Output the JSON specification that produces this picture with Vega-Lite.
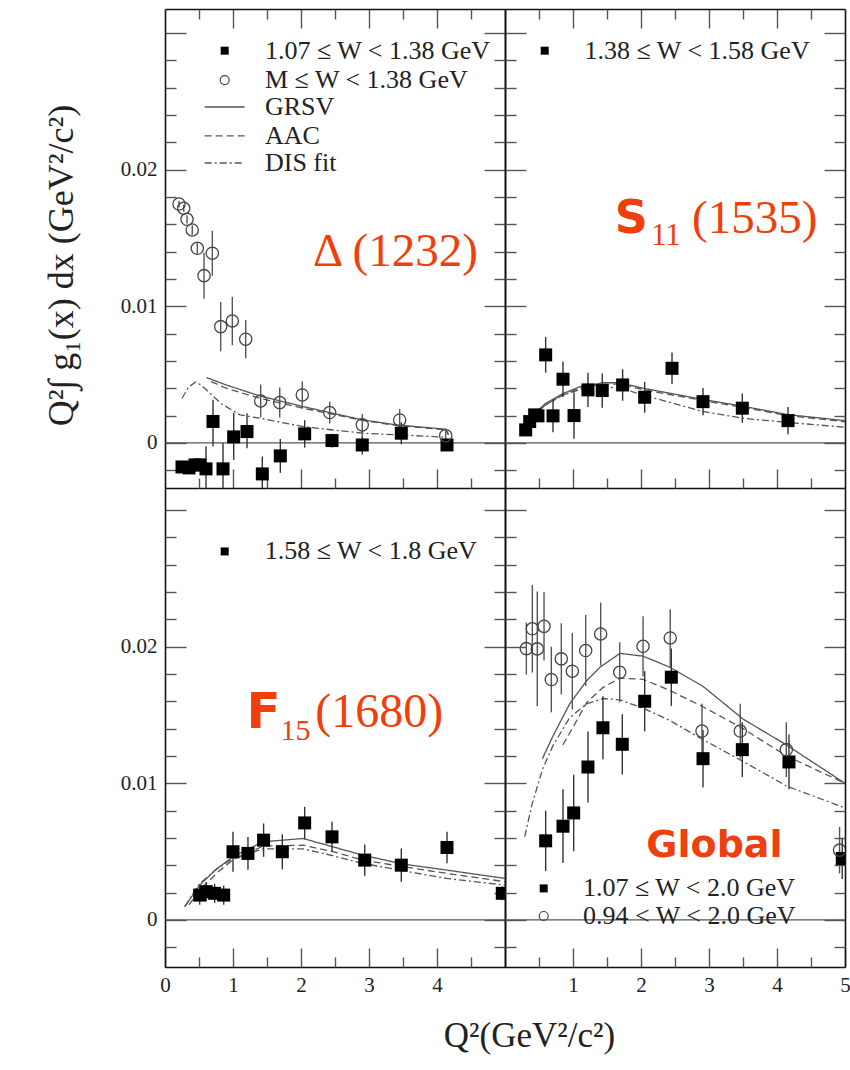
{
"$schema": "https://vega.github.io/schema/vega-lite/v6.json",
"background": "white",
"padding": {"left": 43, "top": 8, "right": 5, "bottom": 5},
"config": {
 "view": {"stroke": null},
 "axis": {"grid": false, "domainColor": "#111", "domainWidth": 1.6, "tickColor": "#555", "tickWidth": 1.4, "labelFont": "Liberation Serif", "labelFontSize": 21, "labelColor": "#222", "titleFont": "Liberation Serif", "titleFontWeight": "normal", "titleColor": "#222", "labelOverlap": false, "labelFlush": false}
},
"datasets": {
 "tl_sq": [
  {"q2":0.25,"v":-0.00176,"lo":-0.00206,"hi":-0.00146},
  {"q2":0.353,"v":-0.00183,"lo":-0.00213,"hi":-0.00153},
  {"q2":0.441,"v":-0.00161,"lo":-0.00195,"hi":-0.00127},
  {"q2":0.515,"v":-0.00161,"lo":-0.00201,"hi":-0.00121},
  {"q2":0.603,"v":-0.0019,"lo":-0.0036,"hi":-0.00024},
  {"q2":0.706,"v":0.00157,"lo":-0.00027,"hi":0.00315},
  {"q2":0.853,"v":-0.0019,"lo":-0.0038,"hi":0.0},
  {"q2":1.01,"v":0.00044,"lo":-0.00124,"hi":0.0022},
  {"q2":1.206,"v":0.00083,"lo":-0.00039,"hi":0.00217},
  {"q2":1.431,"v":-0.00227,"lo":-0.0035,"hi":-0.001},
  {"q2":1.696,"v":-0.00095,"lo":-0.00219,"hi":0.00029},
  {"q2":2.054,"v":0.00066,"lo":-0.00034,"hi":0.00166},
  {"q2":2.456,"v":0.00017,"lo":-0.00033,"hi":0.00067},
  {"q2":2.901,"v":-0.00015,"lo":-0.00085,"hi":0.00055},
  {"q2":3.475,"v":0.00071,"lo":-0.00009,"hi":0.00151},
  {"q2":4.147,"v":-0.00015,"lo":-0.00045,"hi":0.00015}
 ],
 "tl_ci": [
  {"q2":0.206,"v":0.01748,"lo":0.01725,"hi":0.01771},
  {"q2":0.275,"v":0.01717,"lo":0.01692,"hi":0.01742},
  {"q2":0.324,"v":0.01636,"lo":0.01606,"hi":0.01666},
  {"q2":0.401,"v":0.01558,"lo":0.01523,"hi":0.01593},
  {"q2":0.475,"v":0.01424,"lo":0.01384,"hi":0.01464},
  {"q2":0.574,"v":0.01224,"lo":0.01054,"hi":0.01394},
  {"q2":0.696,"v":0.01388,"lo":0.01223,"hi":0.01553},
  {"q2":0.819,"v":0.00851,"lo":0.00671,"hi":0.01031},
  {"q2":0.99,"v":0.00892,"lo":0.00715,"hi":0.01069},
  {"q2":1.187,"v":0.00759,"lo":0.00619,"hi":0.00899},
  {"q2":1.407,"v":0.00307,"lo":0.00187,"hi":0.00427},
  {"q2":1.687,"v":0.00295,"lo":0.00185,"hi":0.00405},
  {"q2":2.019,"v":0.00351,"lo":0.00251,"hi":0.00451},
  {"q2":2.422,"v":0.00222,"lo":0.00142,"hi":0.00302},
  {"q2":2.901,"v":0.00132,"lo":0.00052,"hi":0.00212},
  {"q2":3.451,"v":0.00168,"lo":0.00088,"hi":0.00248},
  {"q2":4.128,"v":0.00053,"lo":0.00013,"hi":0.00093}
 ],
 "tl_ln": [
  {"model":"GRSV","q2":0.61,"v":0.00478},{"model":"GRSV","q2":0.9,"v":0.00424},{"model":"GRSV","q2":1.39,"v":0.00344},{"model":"GRSV","q2":2.03,"v":0.00266},{"model":"GRSV","q2":2.42,"v":0.00222},{"model":"GRSV","q2":2.91,"v":0.00168},{"model":"GRSV","q2":3.4,"v":0.00132},{"model":"GRSV","q2":4.13,"v":0.001},{"model":"GRSV","q2":4.17,"v":0.0006},
  {"model":"AAC","q2":0.68,"v":0.00449},{"model":"AAC","q2":0.9,"v":0.004},{"model":"AAC","q2":1.39,"v":0.00327},{"model":"AAC","q2":2.03,"v":0.00254},{"model":"AAC","q2":2.9,"v":0.00165},{"model":"AAC","q2":3.4,"v":0.00128},{"model":"AAC","q2":4.13,"v":0.00095},{"model":"AAC","q2":4.17,"v":0.0006},
  {"model":"DIS fit","q2":0.25,"v":0.00327},{"model":"DIS fit","q2":0.35,"v":0.0041},{"model":"DIS fit","q2":0.45,"v":0.00445},{"model":"DIS fit","q2":0.53,"v":0.00424},{"model":"DIS fit","q2":0.82,"v":0.0029},{"model":"DIS fit","q2":1.1,"v":0.00205},{"model":"DIS fit","q2":1.39,"v":0.00181},{"model":"DIS fit","q2":2.03,"v":0.00119},{"model":"DIS fit","q2":2.91,"v":0.00071},{"model":"DIS fit","q2":4.13,"v":0.00042}
 ],
 "tl_leg_ln": [
  {"model":"GRSV","q2":0.584,"v":0.02458},{"model":"GRSV","q2":1.172,"v":0.02458},
  {"model":"AAC","q2":0.584,"v":0.02246},{"model":"AAC","q2":1.172,"v":0.02246},
  {"model":"DIS fit","q2":0.584,"v":0.02048},{"model":"DIS fit","q2":1.172,"v":0.02048}
 ],
 "tl_leg_txt": [
  {"q2":1.47,"v":0.0287,"label":"1.07 ≤ W < 1.38 GeV"},
  {"q2":1.47,"v":0.02655,"label":"M ≤ W < 1.38 GeV"},
  {"q2":1.47,"v":0.02458,"label":"GRSV"},
  {"q2":1.47,"v":0.02246,"label":"AAC"},
  {"q2":1.47,"v":0.02048,"label":"DIS fit"}
 ],
 "tr_sq": [
  {"q2":0.304,"v":0.00095,"lo":0.00065,"hi":0.00125},
  {"q2":0.363,"v":0.00156,"lo":0.00126,"hi":0.00186},
  {"q2":0.436,"v":0.00205,"lo":0.00175,"hi":0.00235},
  {"q2":0.485,"v":0.00198,"lo":0.00168,"hi":0.00228},
  {"q2":0.598,"v":0.00644,"lo":0.00514,"hi":0.00774},
  {"q2":0.706,"v":0.00198,"lo":0.00078,"hi":0.00318},
  {"q2":0.853,"v":0.00466,"lo":0.00336,"hi":0.00596},
  {"q2":1.015,"v":0.002,"lo":0.0003,"hi":0.0037},
  {"q2":1.22,"v":0.00388,"lo":0.00263,"hi":0.00513},
  {"q2":1.43,"v":0.00383,"lo":0.00258,"hi":0.00508},
  {"q2":1.73,"v":0.00424,"lo":0.00309,"hi":0.00539},
  {"q2":2.054,"v":0.00334,"lo":0.00221,"hi":0.00447},
  {"q2":2.456,"v":0.00546,"lo":0.00431,"hi":0.00661},
  {"q2":2.912,"v":0.00302,"lo":0.00202,"hi":0.00402},
  {"q2":3.49,"v":0.00254,"lo":0.00147,"hi":0.00361},
  {"q2":4.162,"v":0.00163,"lo":0.00063,"hi":0.00263}
 ],
 "tr_ln": [
  {"model":"GRSV","q2":0.42,"v":0.0021},{"model":"GRSV","q2":0.6,"v":0.0029},{"model":"GRSV","q2":0.85,"v":0.0036},{"model":"GRSV","q2":1.1,"v":0.0041},{"model":"GRSV","q2":1.44,"v":0.0044},{"model":"GRSV","q2":1.7,"v":0.0044},{"model":"GRSV","q2":2.03,"v":0.004},{"model":"GRSV","q2":2.91,"v":0.00318},{"model":"GRSV","q2":3.5,"v":0.00268},{"model":"GRSV","q2":4.16,"v":0.00207},{"model":"GRSV","q2":5.0,"v":0.00163},
  {"model":"AAC","q2":0.42,"v":0.002},{"model":"AAC","q2":0.6,"v":0.0028},{"model":"AAC","q2":0.85,"v":0.0035},{"model":"AAC","q2":1.1,"v":0.004},{"model":"AAC","q2":1.44,"v":0.0043},{"model":"AAC","q2":1.7,"v":0.0043},{"model":"AAC","q2":2.03,"v":0.0039},{"model":"AAC","q2":2.91,"v":0.0031},{"model":"AAC","q2":3.5,"v":0.0026},{"model":"AAC","q2":4.16,"v":0.002},{"model":"AAC","q2":5.0,"v":0.00155},
  {"model":"DIS fit","q2":0.42,"v":0.002},{"model":"DIS fit","q2":0.6,"v":0.0028},{"model":"DIS fit","q2":0.85,"v":0.0035},{"model":"DIS fit","q2":1.1,"v":0.0039},{"model":"DIS fit","q2":1.44,"v":0.0041},{"model":"DIS fit","q2":1.7,"v":0.004},{"model":"DIS fit","q2":2.03,"v":0.0035},{"model":"DIS fit","q2":2.91,"v":0.0023},{"model":"DIS fit","q2":3.5,"v":0.0018},{"model":"DIS fit","q2":4.16,"v":0.0015},{"model":"DIS fit","q2":5.0,"v":0.00115}
 ],
 "bl_sq": [
  {"q2":0.51,"v":0.00182,"lo":0.00112,"hi":0.00252},
  {"q2":0.607,"v":0.00207,"lo":0.00137,"hi":0.00277},
  {"q2":0.73,"v":0.00195,"lo":0.00125,"hi":0.00265},
  {"q2":0.863,"v":0.00182,"lo":0.00112,"hi":0.00252},
  {"q2":1.0,"v":0.00499,"lo":0.00353,"hi":0.00645},
  {"q2":1.22,"v":0.00487,"lo":0.00367,"hi":0.00607},
  {"q2":1.45,"v":0.00584,"lo":0.00462,"hi":0.00706},
  {"q2":1.725,"v":0.00499,"lo":0.00371,"hi":0.00627},
  {"q2":2.054,"v":0.0071,"lo":0.00592,"hi":0.00828},
  {"q2":2.456,"v":0.00608,"lo":0.00498,"hi":0.00718},
  {"q2":2.937,"v":0.00438,"lo":0.00323,"hi":0.00553},
  {"q2":3.475,"v":0.00401,"lo":0.00279,"hi":0.00523},
  {"q2":4.147,"v":0.0053,"lo":0.00415,"hi":0.00645},
  {"q2":4.96,"v":0.00195,"lo":0.00145,"hi":0.00245}
 ],
 "bl_ln": [
  {"model":"GRSV","q2":0.29,"v":0.00097},{"model":"GRSV","q2":0.51,"v":0.00255},{"model":"GRSV","q2":0.75,"v":0.0037},{"model":"GRSV","q2":1.0,"v":0.00462},{"model":"GRSV","q2":1.44,"v":0.00572},{"model":"GRSV","q2":2.03,"v":0.00596},{"model":"GRSV","q2":2.47,"v":0.00535},{"model":"GRSV","q2":2.91,"v":0.00474},{"model":"GRSV","q2":3.5,"v":0.00409},{"model":"GRSV","q2":4.14,"v":0.00365},{"model":"GRSV","q2":5.0,"v":0.00304},
  {"model":"AAC","q2":0.35,"v":0.0011},{"model":"AAC","q2":0.55,"v":0.0024},{"model":"AAC","q2":0.8,"v":0.0036},{"model":"AAC","q2":1.0,"v":0.0044},{"model":"AAC","q2":1.44,"v":0.0054},{"model":"AAC","q2":2.03,"v":0.00547},{"model":"AAC","q2":2.47,"v":0.005},{"model":"AAC","q2":2.91,"v":0.00438},{"model":"AAC","q2":3.5,"v":0.0039},{"model":"AAC","q2":4.14,"v":0.00341},{"model":"AAC","q2":5.0,"v":0.0028},
  {"model":"DIS fit","q2":0.29,"v":0.00097},{"model":"DIS fit","q2":0.5,"v":0.0026},{"model":"DIS fit","q2":0.75,"v":0.0037},{"model":"DIS fit","q2":1.0,"v":0.0045},{"model":"DIS fit","q2":1.44,"v":0.0052},{"model":"DIS fit","q2":2.03,"v":0.0052},{"model":"DIS fit","q2":2.47,"v":0.0047},{"model":"DIS fit","q2":2.91,"v":0.00414},{"model":"DIS fit","q2":3.5,"v":0.0036},{"model":"DIS fit","q2":4.14,"v":0.00304},{"model":"DIS fit","q2":5.0,"v":0.00255}
 ],
 "br_ci": [
  {"q2":0.314,"v":0.01985,"lo":0.01795,"hi":0.02175},
  {"q2":0.402,"v":0.0213,"lo":0.0181,"hi":0.0245},
  {"q2":0.475,"v":0.01983,"lo":0.01563,"hi":0.02403},
  {"q2":0.574,"v":0.02148,"lo":0.01898,"hi":0.02398},
  {"q2":0.681,"v":0.01759,"lo":0.01519,"hi":0.01999},
  {"q2":0.828,"v":0.0191,"lo":0.0165,"hi":0.0217},
  {"q2":0.99,"v":0.0182,"lo":0.0154,"hi":0.021},
  {"q2":1.187,"v":0.01971,"lo":0.01711,"hi":0.02231},
  {"q2":1.407,"v":0.02092,"lo":0.01862,"hi":0.02322},
  {"q2":1.687,"v":0.01812,"lo":0.01592,"hi":0.02032},
  {"q2":2.03,"v":0.02002,"lo":0.01782,"hi":0.02222},
  {"q2":2.43,"v":0.02063,"lo":0.01853,"hi":0.02273},
  {"q2":2.897,"v":0.01382,"lo":0.01182,"hi":0.01582},
  {"q2":3.46,"v":0.01382,"lo":0.01182,"hi":0.01582},
  {"q2":4.137,"v":0.01246,"lo":0.01046,"hi":0.01446},
  {"q2":4.92,"v":0.00511,"lo":0.00341,"hi":0.00681}
 ],
 "br_sq": [
  {"q2":0.598,"v":0.00579,"lo":0.00359,"hi":0.00799},
  {"q2":0.853,"v":0.00686,"lo":0.00416,"hi":0.00956},
  {"q2":1.01,"v":0.00783,"lo":0.00503,"hi":0.01063},
  {"q2":1.22,"v":0.01119,"lo":0.00859,"hi":0.01379},
  {"q2":1.44,"v":0.01406,"lo":0.01176,"hi":0.01636},
  {"q2":1.725,"v":0.01285,"lo":0.01065,"hi":0.01505},
  {"q2":2.054,"v":0.016,"lo":0.0138,"hi":0.0182},
  {"q2":2.446,"v":0.01776,"lo":0.01566,"hi":0.01986},
  {"q2":2.912,"v":0.0118,"lo":0.0097,"hi":0.0139},
  {"q2":3.49,"v":0.01246,"lo":0.01046,"hi":0.01446},
  {"q2":4.176,"v":0.01156,"lo":0.00956,"hi":0.01356},
  {"q2":4.96,"v":0.0045,"lo":0.003,"hi":0.006}
 ],
 "br_ln": [
  {"model":"GRSV","q2":0.55,"v":0.0118},{"model":"GRSV","q2":0.7,"v":0.0134},{"model":"GRSV","q2":0.95,"v":0.0158},{"model":"GRSV","q2":1.2,"v":0.0175},{"model":"GRSV","q2":1.4,"v":0.0185},{"model":"GRSV","q2":1.69,"v":0.0195},{"model":"GRSV","q2":2.03,"v":0.0193},{"model":"GRSV","q2":2.42,"v":0.0185},{"model":"GRSV","q2":2.91,"v":0.0171},{"model":"GRSV","q2":3.5,"v":0.0147},{"model":"GRSV","q2":4.14,"v":0.0128},{"model":"GRSV","q2":5.0,"v":0.01},
  {"model":"AAC","q2":0.85,"v":0.0128},{"model":"AAC","q2":1.0,"v":0.0141},{"model":"AAC","q2":1.2,"v":0.0159},{"model":"AAC","q2":1.44,"v":0.017},{"model":"AAC","q2":1.69,"v":0.0177},{"model":"AAC","q2":2.03,"v":0.0176},{"model":"AAC","q2":2.42,"v":0.0168},{"model":"AAC","q2":2.91,"v":0.0156},{"model":"AAC","q2":3.5,"v":0.014},{"model":"AAC","q2":4.14,"v":0.012},{"model":"AAC","q2":5.0,"v":0.01},
  {"model":"DIS fit","q2":0.29,"v":0.0061},{"model":"DIS fit","q2":0.4,"v":0.0085},{"model":"DIS fit","q2":0.55,"v":0.011},{"model":"DIS fit","q2":0.7,"v":0.0127},{"model":"DIS fit","q2":0.95,"v":0.0148},{"model":"DIS fit","q2":1.2,"v":0.0158},{"model":"DIS fit","q2":1.44,"v":0.0162},{"model":"DIS fit","q2":1.69,"v":0.0161},{"model":"DIS fit","q2":2.03,"v":0.0155},{"model":"DIS fit","q2":2.42,"v":0.0146},{"model":"DIS fit","q2":2.91,"v":0.0132},{"model":"DIS fit","q2":3.5,"v":0.0116},{"model":"DIS fit","q2":4.14,"v":0.0098},{"model":"DIS fit","q2":5.0,"v":0.0082}
 ]
},
"columns": 2,
"spacing": 0,
"bounds": "flush",
"concat": [
 {
  "width": 340, "height": 479,
  "resolve": {"axis": {"x": "independent", "y": "independent"}},
  "layer": [
   {"data": {"values": [{}]}, "mark": {"type": "rule", "color": "#555", "strokeWidth": 1.2},
    "encoding": {"y": {"datum": 0, "type": "quantitative", "scale": {"domain": [-0.0033, 0.03175], "nice": false, "zero": false}, "axis": null}}},
   {"data": {"name": "tl_ln"}, "mark": {"type": "line", "color": "#555", "strokeWidth": 1.3, "clip": true},
    "encoding": {
     "x": {"field": "q2", "type": "quantitative", "scale": {"domain": [0, 5], "nice": false, "zero": false},
      "axis": {"orient": "bottom", "values": [1,2,3,4], "tickSize": -19, "labels": false, "title": null}},
     "y": {"field": "v", "type": "quantitative", "scale": {"domain": [-0.0033, 0.03175], "nice": false, "zero": false},
      "axis": {"orient": "left", "values": [0,0.01,0.02,0.03], "tickSize": -21, "labelPadding": 29,
       "labelExpr": "datum.value > 0.025 ? '' : format(datum.value,'~g')",
       "title": "Q²∫ g₁(x) dx (GeV²/c²)", "titleFontSize": 36, "titleX": -104, "titleY": 256, "titleAngle": 270, "titleBaseline": "middle", "titleAlign": "center"}},
     "strokeDash": {"field": "model", "type": "nominal", "scale": {"domain": ["GRSV", "AAC", "DIS fit"], "range": [[1, 0], [7, 4], [7, 3, 2, 3]]}, "legend": null}
    }},
   {"data": {"name": "tl_sq"}, "mark": {"type": "rule", "color": "#333", "strokeWidth": 1.4, "clip": true},
    "encoding": {
     "x": {"field": "q2", "type": "quantitative", "scale": {"domain": [0, 5], "nice": false, "zero": false},
      "axis": {"orient": "top", "values": [1,2,3,4], "tickSize": -19, "labels": false, "title": null}},
     "y": {"field": "lo", "type": "quantitative", "scale": {"domain": [-0.0033, 0.03175], "nice": false, "zero": false},
      "axis": {"orient": "right", "values": [0,0.01,0.02,0.03], "tickSize": -21, "labels": false, "title": null}},
     "y2": {"field": "hi"}
    }},
   {"data": {"name": "tl_ci"}, "mark": {"type": "rule", "color": "#555", "strokeWidth": 1.4, "clip": true},
    "encoding": {
     "x": {"field": "q2", "type": "quantitative", "scale": {"domain": [0, 5], "nice": false, "zero": false},
      "axis": {"orient": "bottom", "values": [0.5,1.5,2.5,3.5,4.5], "tickSize": -10, "labels": false, "domain": false, "title": null}},
     "y": {"field": "lo", "type": "quantitative", "scale": {"domain": [-0.0033, 0.03175], "nice": false, "zero": false},
      "axis": {"orient": "left", "values": [-0.002,0.002,0.004,0.006,0.008,0.012,0.014,0.016,0.018,0.022,0.024,0.026,0.028], "tickSize": -11, "labels": false, "domain": false, "title": null}},
     "y2": {"field": "hi"}
    }},
   {"data": {"name": "tl_sq"}, "mark": {"type": "point", "shape": "square", "filled": true, "color": "#000", "size": 169, "opacity": 1, "clip": true},
    "encoding": {
     "x": {"field": "q2", "type": "quantitative", "scale": {"domain": [0, 5], "nice": false, "zero": false},
      "axis": {"orient": "top", "values": [0.5,1.5,2.5,3.5,4.5], "tickSize": -10, "labels": false, "domain": false, "title": null}},
     "y": {"field": "v", "type": "quantitative", "scale": {"domain": [-0.0033, 0.03175], "nice": false, "zero": false},
      "axis": {"orient": "right", "values": [-0.002,0.002,0.004,0.006,0.008,0.012,0.014,0.016,0.018,0.022,0.024,0.026,0.028], "tickSize": -11, "labels": false, "domain": false, "title": null}}
    }},
   {"data": {"name": "tl_ci"}, "mark": {"type": "point", "shape": "circle", "filled": false, "stroke": "#444", "strokeWidth": 1.3, "size": 150, "opacity": 1, "clip": true},
    "encoding": {
     "x": {"field": "q2", "type": "quantitative", "scale": {"domain": [0, 5], "nice": false, "zero": false}, "axis": null},
     "y": {"field": "v", "type": "quantitative", "scale": {"domain": [-0.0033, 0.03175], "nice": false, "zero": false}, "axis": null}
    }},
   {"data": {"name": "tl_leg_ln"}, "mark": {"type": "line", "color": "#555", "strokeWidth": 1.3},
    "encoding": {
     "x": {"field": "q2", "type": "quantitative", "scale": {"domain": [0, 5], "nice": false, "zero": false}, "axis": null},
     "y": {"field": "v", "type": "quantitative", "scale": {"domain": [-0.0033, 0.03175], "nice": false, "zero": false}, "axis": null},
     "strokeDash": {"field": "model", "type": "nominal", "scale": {"domain": ["GRSV", "AAC", "DIS fit"], "range": [[1, 0], [7, 4], [7, 3, 2, 3]]}, "legend": null}
    }},
   {"data": {"values": [{"q2": 0.878, "v": 0.0287}]}, "mark": {"type": "point", "shape": "square", "filled": true, "color": "#000", "size": 64, "opacity": 1},
    "encoding": {
     "x": {"field": "q2", "type": "quantitative", "scale": {"domain": [0, 5], "nice": false, "zero": false}, "axis": null},
     "y": {"field": "v", "type": "quantitative", "scale": {"domain": [-0.0033, 0.03175], "nice": false, "zero": false}, "axis": null}
    }},
   {"data": {"values": [{"q2": 0.878, "v": 0.02655}]}, "mark": {"type": "point", "shape": "circle", "filled": false, "stroke": "#444", "strokeWidth": 1.2, "size": 81, "opacity": 1},
    "encoding": {
     "x": {"field": "q2", "type": "quantitative", "scale": {"domain": [0, 5], "nice": false, "zero": false}, "axis": null},
     "y": {"field": "v", "type": "quantitative", "scale": {"domain": [-0.0033, 0.03175], "nice": false, "zero": false}, "axis": null}
    }},
   {"data": {"name": "tl_leg_txt"}, "mark": {"type": "text", "font": "Liberation Serif", "fontSize": 26, "align": "left", "baseline": "middle", "color": "#222"},
    "encoding": {
     "x": {"field": "q2", "type": "quantitative", "scale": {"domain": [0, 5], "nice": false, "zero": false}, "axis": null},
     "y": {"field": "v", "type": "quantitative", "scale": {"domain": [-0.0033, 0.03175], "nice": false, "zero": false}, "axis": null},
     "text": {"field": "label"}
    }},
   {"data": {"values": [{"q2": 4.6, "v": 0.01295, "label": "Δ (1232)"}]}, "mark": {"type": "text", "font": "Liberation Serif", "fontSize": 47, "align": "right", "baseline": "alphabetic", "color": "#EE3F0C"},
    "encoding": {
     "x": {"field": "q2", "type": "quantitative", "scale": {"domain": [0, 5], "nice": false, "zero": false}, "axis": null},
     "y": {"field": "v", "type": "quantitative", "scale": {"domain": [-0.0033, 0.03175], "nice": false, "zero": false}, "axis": null},
     "text": {"field": "label"}
    }}
  ]
 },
 {
  "width": 340, "height": 479,
  "resolve": {"axis": {"x": "independent", "y": "independent"}},
  "layer": [
   {"data": {"values": [{}]}, "mark": {"type": "rule", "color": "#555", "strokeWidth": 1.2},
    "encoding": {"y": {"datum": 0, "type": "quantitative", "scale": {"domain": [-0.0033, 0.03175], "nice": false, "zero": false}, "axis": null}}},
   {"data": {"name": "tr_ln"}, "mark": {"type": "line", "color": "#555", "strokeWidth": 1.3, "clip": true},
    "encoding": {
     "x": {"field": "q2", "type": "quantitative", "scale": {"domain": [0, 5], "nice": false, "zero": false},
      "axis": {"orient": "bottom", "values": [1,2,3,4], "tickSize": -19, "labels": false, "title": null}},
     "y": {"field": "v", "type": "quantitative", "scale": {"domain": [-0.0033, 0.03175], "nice": false, "zero": false},
      "axis": {"orient": "left", "values": [0,0.01,0.02,0.03], "tickSize": -21, "labels": false, "title": null}},
     "strokeDash": {"field": "model", "type": "nominal", "scale": {"domain": ["GRSV", "AAC", "DIS fit"], "range": [[1, 0], [7, 4], [7, 3, 2, 3]]}, "legend": null}
    }},
   {"data": {"name": "tr_sq"}, "mark": {"type": "rule", "color": "#333", "strokeWidth": 1.4, "clip": true},
    "encoding": {
     "x": {"field": "q2", "type": "quantitative", "scale": {"domain": [0, 5], "nice": false, "zero": false},
      "axis": {"orient": "top", "values": [1,2,3,4], "tickSize": -19, "labels": false, "title": null}},
     "y": {"field": "lo", "type": "quantitative", "scale": {"domain": [-0.0033, 0.03175], "nice": false, "zero": false},
      "axis": {"orient": "right", "values": [0,0.01,0.02,0.03], "tickSize": -21, "labels": false, "title": null}},
     "y2": {"field": "hi"}
    }},
   {"data": {"name": "tr_sq"}, "mark": {"type": "point", "shape": "square", "filled": true, "color": "#000", "size": 169, "opacity": 1, "clip": true},
    "encoding": {
     "x": {"field": "q2", "type": "quantitative", "scale": {"domain": [0, 5], "nice": false, "zero": false},
      "axis": {"orient": "bottom", "values": [0.5,1.5,2.5,3.5,4.5], "tickSize": -10, "labels": false, "domain": false, "title": null}},
     "y": {"field": "v", "type": "quantitative", "scale": {"domain": [-0.0033, 0.03175], "nice": false, "zero": false},
      "axis": {"orient": "left", "values": [-0.002,0.002,0.004,0.006,0.008,0.012,0.014,0.016,0.018,0.022,0.024,0.026,0.028], "tickSize": -11, "labels": false, "domain": false, "title": null}}
    }},
   {"data": {"values": [{"q2": 0.584, "v": 0.0287}]}, "mark": {"type": "point", "shape": "square", "filled": true, "color": "#000", "size": 64, "opacity": 1},
    "encoding": {
     "x": {"field": "q2", "type": "quantitative", "scale": {"domain": [0, 5], "nice": false, "zero": false},
      "axis": {"orient": "top", "values": [0.5,1.5,2.5,3.5,4.5], "tickSize": -10, "labels": false, "domain": false, "title": null}},
     "y": {"field": "v", "type": "quantitative", "scale": {"domain": [-0.0033, 0.03175], "nice": false, "zero": false},
      "axis": {"orient": "right", "values": [-0.002,0.002,0.004,0.006,0.008,0.012,0.014,0.016,0.018,0.022,0.024,0.026,0.028], "tickSize": -11, "labels": false, "domain": false, "title": null}}
    }},
   {"data": {"values": [{"q2": 1.17, "v": 0.0287, "label": "1.38 ≤ W < 1.58 GeV"}]}, "mark": {"type": "text", "font": "Liberation Serif", "fontSize": 26, "align": "left", "baseline": "middle", "color": "#222"},
    "encoding": {
     "x": {"field": "q2", "type": "quantitative", "scale": {"domain": [0, 5], "nice": false, "zero": false}, "axis": null},
     "y": {"field": "v", "type": "quantitative", "scale": {"domain": [-0.0033, 0.03175], "nice": false, "zero": false}, "axis": null},
     "text": {"field": "label"}
    }},
   {"data": {"values": [{"q2": 1.613, "v": 0.01536, "label": "S"}]}, "mark": {"type": "text", "font": "DejaVu Sans", "fontWeight": "bold", "fontSize": 46, "align": "left", "baseline": "alphabetic", "color": "#EE3F0C"},
    "encoding": {
     "x": {"field": "q2", "type": "quantitative", "scale": {"domain": [0, 5], "nice": false, "zero": false}, "axis": null},
     "y": {"field": "v", "type": "quantitative", "scale": {"domain": [-0.0033, 0.03175], "nice": false, "zero": false}, "axis": null},
     "text": {"field": "label"}
    }},
   {"data": {"values": [{"q2": 2.147, "v": 0.01448, "label": "11"}]}, "mark": {"type": "text", "font": "Liberation Serif", "fontSize": 31, "align": "left", "baseline": "alphabetic", "color": "#EE3F0C"},
    "encoding": {
     "x": {"field": "q2", "type": "quantitative", "scale": {"domain": [0, 5], "nice": false, "zero": false}, "axis": null},
     "y": {"field": "v", "type": "quantitative", "scale": {"domain": [-0.0033, 0.03175], "nice": false, "zero": false}, "axis": null},
     "text": {"field": "label"}
    }},
   {"data": {"values": [{"q2": 2.75, "v": 0.01536, "label": "(1535)"}]}, "mark": {"type": "text", "font": "Liberation Serif", "fontSize": 47, "align": "left", "baseline": "alphabetic", "color": "#EE3F0C"},
    "encoding": {
     "x": {"field": "q2", "type": "quantitative", "scale": {"domain": [0, 5], "nice": false, "zero": false}, "axis": null},
     "y": {"field": "v", "type": "quantitative", "scale": {"domain": [-0.0033, 0.03175], "nice": false, "zero": false}, "axis": null},
     "text": {"field": "label"}
    }}
  ]
 },
 {
  "width": 340, "height": 479,
  "resolve": {"axis": {"x": "independent", "y": "independent"}},
  "layer": [
   {"data": {"values": [{}]}, "mark": {"type": "rule", "color": "#555", "strokeWidth": 1.2},
    "encoding": {"y": {"datum": 0, "type": "quantitative", "scale": {"domain": [-0.00344, 0.0316], "nice": false, "zero": false}, "axis": null}}},
   {"data": {"name": "bl_ln"}, "mark": {"type": "line", "color": "#555", "strokeWidth": 1.3, "clip": true},
    "encoding": {
     "x": {"field": "q2", "type": "quantitative", "scale": {"domain": [0, 5], "nice": false, "zero": false},
      "axis": {"orient": "bottom", "values": [0,1,2,3,4], "tickSize": -19, "labelPadding": 26, "format": "d",
       "title": "Q²(GeV²/c²)", "titleFontSize": 35, "titleX": 364, "titleY": 68, "titleBaseline": "middle", "titleAlign": "center"}},
     "y": {"field": "v", "type": "quantitative", "scale": {"domain": [-0.00344, 0.0316], "nice": false, "zero": false},
      "axis": {"orient": "left", "values": [0,0.01,0.02,0.03], "tickSize": -21, "labelPadding": 29,
       "labelExpr": "datum.value > 0.025 ? '' : format(datum.value,'~g')", "title": null}},
     "strokeDash": {"field": "model", "type": "nominal", "scale": {"domain": ["GRSV", "AAC", "DIS fit"], "range": [[1, 0], [7, 4], [7, 3, 2, 3]]}, "legend": null}
    }},
   {"data": {"name": "bl_sq"}, "mark": {"type": "rule", "color": "#333", "strokeWidth": 1.4, "clip": true},
    "encoding": {
     "x": {"field": "q2", "type": "quantitative", "scale": {"domain": [0, 5], "nice": false, "zero": false},
      "axis": {"orient": "bottom", "values": [0.5,1.5,2.5,3.5,4.5], "tickSize": -10, "labels": false, "domain": false, "title": null}},
     "y": {"field": "lo", "type": "quantitative", "scale": {"domain": [-0.00344, 0.0316], "nice": false, "zero": false},
      "axis": {"orient": "right", "values": [0,0.01,0.02,0.03], "tickSize": -21, "labels": false, "title": null}},
     "y2": {"field": "hi"}
    }},
   {"data": {"name": "bl_sq"}, "mark": {"type": "point", "shape": "square", "filled": true, "color": "#000", "size": 169, "opacity": 1, "clip": true},
    "encoding": {
     "x": {"field": "q2", "type": "quantitative", "scale": {"domain": [0, 5], "nice": false, "zero": false}, "axis": null},
     "y": {"field": "v", "type": "quantitative", "scale": {"domain": [-0.00344, 0.0316], "nice": false, "zero": false},
      "axis": {"orient": "left", "values": [-0.002,0.002,0.004,0.006,0.008,0.012,0.014,0.016,0.018,0.022,0.024,0.026,0.028], "tickSize": -11, "labels": false, "domain": false, "title": null}}
    }},
   {"data": {"values": [{"q2": 0.878, "v": 0.02696}]}, "mark": {"type": "point", "shape": "square", "filled": true, "color": "#000", "size": 64, "opacity": 1},
    "encoding": {
     "x": {"field": "q2", "type": "quantitative", "scale": {"domain": [0, 5], "nice": false, "zero": false}, "axis": null},
     "y": {"field": "v", "type": "quantitative", "scale": {"domain": [-0.00344, 0.0316], "nice": false, "zero": false},
      "axis": {"orient": "right", "values": [-0.002,0.002,0.004,0.006,0.008,0.012,0.014,0.016,0.018,0.022,0.024,0.026,0.028], "tickSize": -11, "labels": false, "domain": false, "title": null}}
    }},
   {"data": {"values": [{"q2": 1.466, "v": 0.02696, "label": "1.58 ≤ W < 1.8 GeV"}]}, "mark": {"type": "text", "font": "Liberation Serif", "fontSize": 26, "align": "left", "baseline": "middle", "color": "#222"},
    "encoding": {
     "x": {"field": "q2", "type": "quantitative", "scale": {"domain": [0, 5], "nice": false, "zero": false}, "axis": null},
     "y": {"field": "v", "type": "quantitative", "scale": {"domain": [-0.00344, 0.0316], "nice": false, "zero": false}, "axis": null},
     "text": {"field": "label"}
    }},
   {"data": {"values": [{"q2": 1.2, "v": 0.01401, "label": "F"}]}, "mark": {"type": "text", "font": "DejaVu Sans", "fontWeight": "bold", "fontSize": 50, "align": "left", "baseline": "alphabetic", "color": "#EE3F0C"},
    "encoding": {
     "x": {"field": "q2", "type": "quantitative", "scale": {"domain": [0, 5], "nice": false, "zero": false}, "axis": null},
     "y": {"field": "v", "type": "quantitative", "scale": {"domain": [-0.00344, 0.0316], "nice": false, "zero": false}, "axis": null},
     "text": {"field": "label"}
    }},
   {"data": {"values": [{"q2": 1.7, "v": 0.01314, "label": "15"}]}, "mark": {"type": "text", "font": "Liberation Serif", "fontSize": 30, "align": "left", "baseline": "alphabetic", "color": "#EE3F0C"},
    "encoding": {
     "x": {"field": "q2", "type": "quantitative", "scale": {"domain": [0, 5], "nice": false, "zero": false}, "axis": null},
     "y": {"field": "v", "type": "quantitative", "scale": {"domain": [-0.00344, 0.0316], "nice": false, "zero": false}, "axis": null},
     "text": {"field": "label"}
    }},
   {"data": {"values": [{"q2": 2.21, "v": 0.0141, "label": "(1680)"}]}, "mark": {"type": "text", "font": "Liberation Serif", "fontSize": 48, "align": "left", "baseline": "alphabetic", "color": "#EE3F0C"},
    "encoding": {
     "x": {"field": "q2", "type": "quantitative", "scale": {"domain": [0, 5], "nice": false, "zero": false}, "axis": null},
     "y": {"field": "v", "type": "quantitative", "scale": {"domain": [-0.00344, 0.0316], "nice": false, "zero": false}, "axis": null},
     "text": {"field": "label"}
    }}
  ]
 },
 {
  "width": 340, "height": 479,
  "resolve": {"axis": {"x": "independent", "y": "independent"}},
  "layer": [
   {"data": {"values": [{}]}, "mark": {"type": "rule", "color": "#555", "strokeWidth": 1.2},
    "encoding": {"y": {"datum": 0, "type": "quantitative", "scale": {"domain": [-0.00344, 0.0316], "nice": false, "zero": false}, "axis": null}}},
   {"data": {"name": "br_ln"}, "mark": {"type": "line", "color": "#555", "strokeWidth": 1.3, "clip": true},
    "encoding": {
     "x": {"field": "q2", "type": "quantitative", "scale": {"domain": [0, 5], "nice": false, "zero": false},
      "axis": {"orient": "bottom", "values": [1,2,3,4,5], "tickSize": -19, "labelPadding": 26, "format": "d", "title": null}},
     "y": {"field": "v", "type": "quantitative", "scale": {"domain": [-0.00344, 0.0316], "nice": false, "zero": false},
      "axis": {"orient": "left", "values": [0,0.01,0.02,0.03], "tickSize": -21, "labels": false, "title": null}},
     "strokeDash": {"field": "model", "type": "nominal", "scale": {"domain": ["GRSV", "AAC", "DIS fit"], "range": [[1, 0], [7, 4], [7, 3, 2, 3]]}, "legend": null}
    }},
   {"data": {"name": "br_sq"}, "mark": {"type": "rule", "color": "#333", "strokeWidth": 1.4, "clip": true},
    "encoding": {
     "x": {"field": "q2", "type": "quantitative", "scale": {"domain": [0, 5], "nice": false, "zero": false},
      "axis": {"orient": "bottom", "values": [0.5,1.5,2.5,3.5,4.5], "tickSize": -10, "labels": false, "domain": false, "title": null}},
     "y": {"field": "lo", "type": "quantitative", "scale": {"domain": [-0.00344, 0.0316], "nice": false, "zero": false},
      "axis": {"orient": "right", "values": [0,0.01,0.02,0.03], "tickSize": -21, "labels": false, "title": null}},
     "y2": {"field": "hi"}
    }},
   {"data": {"name": "br_ci"}, "mark": {"type": "rule", "color": "#555", "strokeWidth": 1.4, "clip": true},
    "encoding": {
     "x": {"field": "q2", "type": "quantitative", "scale": {"domain": [0, 5], "nice": false, "zero": false}, "axis": null},
     "y": {"field": "lo", "type": "quantitative", "scale": {"domain": [-0.00344, 0.0316], "nice": false, "zero": false},
      "axis": {"orient": "left", "values": [-0.002,0.002,0.004,0.006,0.008,0.012,0.014,0.016,0.018,0.022,0.024,0.026,0.028], "tickSize": -11, "labels": false, "domain": false, "title": null}},
     "y2": {"field": "hi"}
    }},
   {"data": {"name": "br_sq"}, "mark": {"type": "point", "shape": "square", "filled": true, "color": "#000", "size": 169, "opacity": 1, "clip": true},
    "encoding": {
     "x": {"field": "q2", "type": "quantitative", "scale": {"domain": [0, 5], "nice": false, "zero": false}, "axis": null},
     "y": {"field": "v", "type": "quantitative", "scale": {"domain": [-0.00344, 0.0316], "nice": false, "zero": false},
      "axis": {"orient": "right", "values": [-0.002,0.002,0.004,0.006,0.008,0.012,0.014,0.016,0.018,0.022,0.024,0.026,0.028], "tickSize": -11, "labels": false, "domain": false, "title": null}}
    }},
   {"data": {"name": "br_ci"}, "mark": {"type": "point", "shape": "circle", "filled": false, "stroke": "#444", "strokeWidth": 1.3, "size": 150, "opacity": 1, "clip": true},
    "encoding": {
     "x": {"field": "q2", "type": "quantitative", "scale": {"domain": [0, 5], "nice": false, "zero": false}, "axis": null},
     "y": {"field": "v", "type": "quantitative", "scale": {"domain": [-0.00344, 0.0316], "nice": false, "zero": false}, "axis": null}
    }},
   {"data": {"values": [{"q2": 0.569, "v": 0.00231}]}, "mark": {"type": "point", "shape": "square", "filled": true, "color": "#000", "size": 64, "opacity": 1},
    "encoding": {
     "x": {"field": "q2", "type": "quantitative", "scale": {"domain": [0, 5], "nice": false, "zero": false}, "axis": null},
     "y": {"field": "v", "type": "quantitative", "scale": {"domain": [-0.00344, 0.0316], "nice": false, "zero": false}, "axis": null}
    }},
   {"data": {"values": [{"q2": 0.569, "v": 0.00029}]}, "mark": {"type": "point", "shape": "circle", "filled": false, "stroke": "#444", "strokeWidth": 1.2, "size": 81, "opacity": 1},
    "encoding": {
     "x": {"field": "q2", "type": "quantitative", "scale": {"domain": [0, 5], "nice": false, "zero": false}, "axis": null},
     "y": {"field": "v", "type": "quantitative", "scale": {"domain": [-0.00344, 0.0316], "nice": false, "zero": false}, "axis": null}
    }},
   {"data": {"values": [{"q2": 1.147, "v": 0.00231, "label": "1.07 ≤ W < 2.0 GeV"}, {"q2": 1.147, "v": 0.00029, "label": "0.94 < W < 2.0 GeV"}]}, "mark": {"type": "text", "font": "Liberation Serif", "fontSize": 26, "align": "left", "baseline": "middle", "color": "#222"},
    "encoding": {
     "x": {"field": "q2", "type": "quantitative", "scale": {"domain": [0, 5], "nice": false, "zero": false}, "axis": null},
     "y": {"field": "v", "type": "quantitative", "scale": {"domain": [-0.00344, 0.0316], "nice": false, "zero": false}, "axis": null},
     "text": {"field": "label"}
    }},
   {"data": {"values": [{"q2": 2.078, "v": 0.00462, "label": "Global"}]}, "mark": {"type": "text", "font": "DejaVu Sans", "fontWeight": "bold", "fontSize": 38, "align": "left", "baseline": "alphabetic", "color": "#EE3F0C"},
    "encoding": {
     "x": {"field": "q2", "type": "quantitative", "scale": {"domain": [0, 5], "nice": false, "zero": false}, "axis": null},
     "y": {"field": "v", "type": "quantitative", "scale": {"domain": [-0.00344, 0.0316], "nice": false, "zero": false}, "axis": null},
     "text": {"field": "label"}
    }}
  ]
 }
]
}
